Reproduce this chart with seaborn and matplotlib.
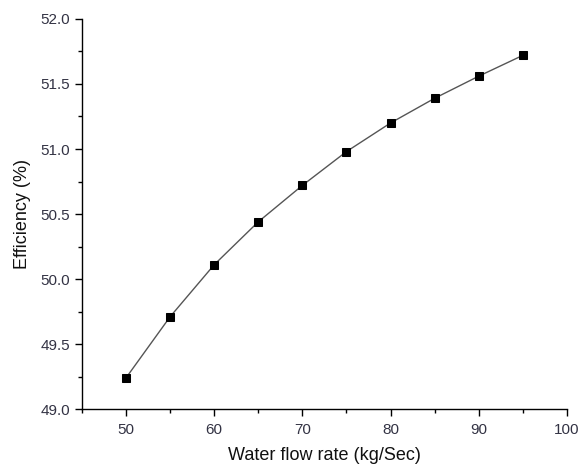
import matplotlib
matplotlib.use("Agg")
import matplotlib.pyplot as plt
from matplotlib.ticker import MultipleLocator
import seaborn as sns
import pandas as pd

flow_rate = [50, 55, 60, 65, 70, 75, 80, 85, 90, 95]
efficiency = [49.24, 49.71, 50.11, 50.44, 50.72, 50.98, 51.20, 51.39, 51.56, 51.72]

df = pd.DataFrame({"flow": flow_rate, "eff": efficiency})

sns.set_theme(style="ticks")
plt.rcParams["font.family"] = ["Liberation Sans", "DejaVu Sans"]

fig = plt.figure(figsize=(5.79, 4.69), dpi=100)
ax = fig.add_axes([0.1416, 0.1279, 0.8374, 0.8316])

sns.lineplot(data=df, x="flow", y="eff", ax=ax, color="#555555", linewidth=1.0,
             marker="s", markersize=5.8, markerfacecolor="black",
             markeredgecolor="black")

ax.set_xlim(45, 100)
ax.set_ylim(49.0, 52.0)
ax.xaxis.set_major_locator(MultipleLocator(10))
ax.xaxis.set_minor_locator(MultipleLocator(5))
ax.yaxis.set_major_locator(MultipleLocator(0.5))
ax.yaxis.set_minor_locator(MultipleLocator(0.25))
ax.set_xticks([50, 60, 70, 80, 90, 100])
ax.yaxis.set_major_formatter(plt.FormatStrFormatter("%.1f"))

for side in ("top", "right"):
    ax.spines[side].set_visible(False)
for side in ("left", "bottom"):
    ax.spines[side].set_color("black")
    ax.spines[side].set_linewidth(1.0)

ax.tick_params(which="major", direction="out", length=5, width=1.0,
               colors="black", labelcolor="#333344", labelsize=11)
ax.tick_params(which="minor", direction="out", length=3, width=1.0, colors="black")
ax.tick_params(axis="x", which="major", pad=5)

ax.set_xlabel("Water flow rate (kg/Sec)", fontsize=13, color="#111111", labelpad=7)
ax.set_ylabel("Efficiency (%)", fontsize=13, color="#111111", labelpad=7)

fig.savefig("out.png", dpi=100)
